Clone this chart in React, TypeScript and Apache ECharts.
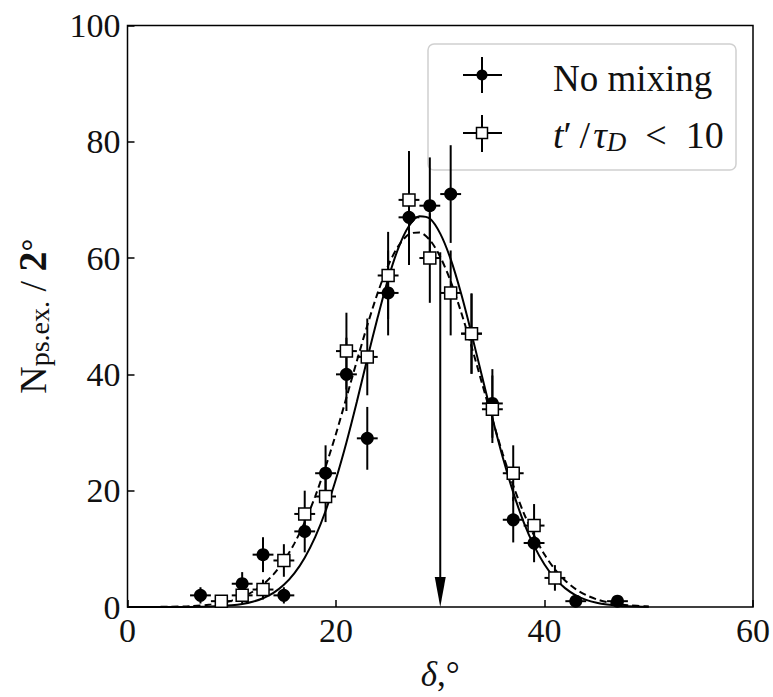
import { useEffect, useRef } from "react";
import * as echarts from "echarts";

// "No mixing" (filled circles)
const noMixX = [7, 11, 13, 15, 17, 19, 21, 23, 25, 27, 29, 31, 33, 35, 37, 39, 43, 47];
const noMixY = [2, 4, 9, 2, 13, 23, 40, 29, 54, 67, 69, 71, 47, 35, 15, 11, 1, 1];
const noMixErr = [1.4, 2, 3, 1.4, 3.6, 4.8, 6.3, 5.4, 7.3, 8.2, 8.3, 8.4, 6.9, 5.9, 3.9, 3.3, 1, 1];

// "t'/tau_D < 10" (open squares)
const tauX = [9, 11, 13, 15, 17, 19, 21, 23, 25, 27, 29, 31, 33, 35, 37, 39, 41];
const tauY = [1, 2, 3, 8, 16, 19, 44, 43, 57, 70, 60, 54, 47, 34, 23, 14, 5];
const tauErr = [1, 1.4, 1.7, 2.8, 4, 4.4, 6.6, 6.6, 7.5, 8.4, 7.7, 7.3, 6.9, 5.8, 4.8, 3.7, 2.2];

const binHalfWidth = 1;

// fitted curves
const curveX = [0, 2, 4, 6, 8, 9, 10, 11, 12, 13, 14, 15, 16, 17, 18, 19, 20, 21, 22, 23, 24, 25, 26, 27, 28, 29, 30, 31, 32, 33, 34, 35, 36, 37, 38, 39, 40, 41, 42, 43, 44, 45, 46, 47, 48, 50];
const fitSolid = [0, 0, 0.01, 0.02, 0.08, 0.16, 0.29, 0.52, 0.9, 1.51, 2.43, 3.81, 5.77, 8.47, 12.0, 16.5, 22.0, 28.3, 35.3, 42.7, 49.8, 56.4, 61.8, 65.5, 67.2, 66.8, 64.2, 59.8, 53.9, 47.0, 39.7, 32.5, 25.7, 19.7, 14.6, 10.5, 7.3, 4.91, 3.2, 2.02, 1.23, 0.73, 0.42, 0.23, 0.12, 0.03];
const fitDashed = [0, 0.01, 0.04, 0.14, 0.41, 0.68, 1.1, 1.72, 2.62, 3.88, 5.62, 7.92, 10.9, 14.6, 19.0, 24.1, 29.8, 36.0, 42.3, 48.4, 54.0, 58.7, 62.1, 64.1, 64.4, 63.1, 60.2, 56.0, 50.7, 44.8, 38.5, 32.3, 26.3, 20.9, 16.2, 12.3, 9.02, 6.47, 4.52, 3.07, 2.04, 1.32, 0.83, 0.51, 0.3, 0.1];

// arrow marker
const arrowX = [30];
const arrowTop = [61];
const arrowTip = [0];

const xTicks = [0, 20, 40, 60];
const yTicks = [0, 20, 40, 60, 80, 100];

const FONT = "Liberation Serif";

export default function App() {
  const ref = useRef<HTMLDivElement>(null);
  useEffect(() => {
    if (!ref.current) return;
    const chart = echarts.init(ref.current, null, { renderer: "svg" });

    const errRender = (_p: any, api: any) => {
      const x = api.value(0), y = api.value(1), e = api.value(2);
      const top = api.coord([x, y + e]);
      const bot = api.coord([x, y - e]);
      const l = api.coord([x - binHalfWidth, y]);
      const r = api.coord([x + binHalfWidth, y]);
      const style = { stroke: "#000", lineWidth: 2 };
      return {
        type: "group",
        children: [
          { type: "line", shape: { x1: top[0], y1: top[1], x2: bot[0], y2: bot[1] }, style },
          { type: "line", shape: { x1: l[0], y1: l[1], x2: r[0], y2: r[1] }, style },
        ],
      };
    };

    const arrowRender = (_p: any, api: any) => {
      const x = api.value(0), yTop = api.value(1), yTip = api.value(2);
      const p0 = api.coord([x, yTop]);
      const tip = api.coord([x, yTip]);
      const headLen = 30, headHalf = 5.5;
      return {
        type: "group",
        children: [
          { type: "line", shape: { x1: p0[0], y1: p0[1], x2: tip[0], y2: tip[1] - headLen + 2 }, style: { stroke: "#000", lineWidth: 2 } },
          {
            type: "polygon",
            shape: { points: [[tip[0], tip[1]], [tip[0] - headHalf, tip[1] - headLen], [tip[0] + headHalf, tip[1] - headLen]] },
            style: { fill: "#000" },
          },
        ],
      };
    };

    const option: any = {
      animation: false,
      backgroundColor: "#fff",
      textStyle: { fontFamily: FONT },
      grid: {
        left: 127.5, top: 25.4, width: 627.5, height: 585.3,
        show: true, borderColor: "#000", borderWidth: 1.5, backgroundColor: "transparent",
      },
      xAxis: {
        type: "value", min: xTicks[0], max: xTicks[xTicks.length - 1], interval: 20,
        axisLine: { show: false },
        axisTick: { show: true, inside: true, length: 7, lineStyle: { color: "#000", width: 1.5 } },
        axisLabel: { fontFamily: FONT, fontSize: 34, color: "#111", margin: 6 },
        splitLine: { show: false },
        name: "{i|δ}{n|,°}",
        nameLocation: "middle",
        nameGap: 50,
        nameTextStyle: {
          fontFamily: FONT,
          rich: {
            i: { fontFamily: FONT, fontSize: 35, fontStyle: "italic", color: "#111" },
            n: { fontFamily: FONT, fontSize: 35, color: "#111" },
          },
        },
      },
      yAxis: {
        type: "value", min: yTicks[0], max: yTicks[yTicks.length - 1], interval: 20,
        axisLine: { show: false },
        axisTick: { show: true, inside: true, length: 7, lineStyle: { color: "#000", width: 1.5 } },
        axisLabel: { fontFamily: FONT, fontSize: 34, color: "#111", margin: 7 },
        splitLine: { show: false },
        name: "{n|N}{s|ps.ex.}{n| / }{b|2}{d|°}",
        nameLocation: "middle",
        nameRotate: 90,
        nameGap: 74,
        nameTextStyle: {
          fontFamily: FONT,
          rich: {
            n: { fontFamily: FONT, fontSize: 38, lineHeight: 42, color: "#111" },
            s: { fontFamily: FONT, fontSize: 28, lineHeight: 26, verticalAlign: "bottom", color: "#111" },
            b: { fontFamily: FONT, fontSize: 40, lineHeight: 42, fontWeight: "bold", color: "#111" },
            d: { fontFamily: FONT, fontSize: 32, lineHeight: 42, fontWeight: "bold", color: "#111" },
          },
        },
      },
      series: [
        {
          type: "line", name: "fit no mixing", data: curveX.map((x, i) => [x, fitSolid[i]]),
          showSymbol: false, smooth: 0.3, lineStyle: { color: "#000", width: 2 }, z: 2, silent: true,
        },
        {
          type: "line", name: "fit t'/tau", data: curveX.map((x, i) => [x, fitDashed[i]]),
          showSymbol: false, smooth: 0.3, lineStyle: { color: "#000", width: 2, type: [7, 4] }, z: 2, silent: true,
        },
        {
          type: "custom", name: "No mixing err", renderItem: errRender,
          data: noMixX.map((x, i) => [x, noMixY[i], noMixErr[i]]), encode: { x: 0, y: 1 }, z: 3,
        },
        {
          type: "scatter", name: "No mixing", data: noMixX.map((x, i) => [x, noMixY[i]]),
          symbol: "circle", symbolSize: 13, itemStyle: { color: "#000", opacity: 1 }, z: 4,
        },
        {
          type: "custom", name: "tau err", renderItem: errRender,
          data: tauX.map((x, i) => [x, tauY[i], tauErr[i]]), encode: { x: 0, y: 1 }, z: 5,
        },
        {
          type: "scatter", name: "t'/tau_D < 10", data: tauX.map((x, i) => [x, tauY[i]]),
          symbol: "rect", symbolSize: 12, itemStyle: { color: "#fff", borderColor: "#000", borderWidth: 1.5, opacity: 1 }, z: 6,
        },
        {
          type: "custom", name: "arrow", renderItem: arrowRender,
          data: arrowX.map((x, i) => [x, arrowTop[i], arrowTip[i]]), encode: { x: 0, y: 1 }, z: 7,
        },
      ],
      graphic: [
        {
          type: "group", z: 100,
          children: [
            {
              type: "rect", shape: { x: 428, y: 44, width: 308, height: 126, r: 6 },
              style: { fill: "rgba(255,255,255,0.8)", stroke: "#d0d0d0", lineWidth: 1.5 },
            },
            { type: "line", shape: { x1: 463, y1: 75, x2: 502, y2: 75 }, style: { stroke: "#000", lineWidth: 2 } },
            { type: "line", shape: { x1: 482, y1: 57, x2: 482, y2: 93 }, style: { stroke: "#000", lineWidth: 2 } },
            { type: "circle", shape: { cx: 482, cy: 75, r: 5.5 }, style: { fill: "#000" } },
            { type: "line", shape: { x1: 463, y1: 133, x2: 502, y2: 133 }, style: { stroke: "#000", lineWidth: 2 } },
            { type: "line", shape: { x1: 482, y1: 115, x2: 482, y2: 152 }, style: { stroke: "#000", lineWidth: 2 } },
            { type: "rect", shape: { x: 476.5, y: 127.5, width: 11, height: 11 }, style: { fill: "#fff", stroke: "#000", lineWidth: 1.5 } },
            {
              type: "text", x: 553, y: 78,
              style: { text: "No mixing", fontFamily: FONT, fontSize: 37, fill: "#111", verticalAlign: "middle", align: "left" },
            },
            {
              type: "text", x: 553, y: 135,
              style: {
                text: "{i|t}{n|′\u2009/\u200a}{i|τ}{s|D}{n|\u2002<\u200210}",
                fontFamily: FONT,
                verticalAlign: "middle", align: "left",
                rich: {
                  i: { fontFamily: FONT, fontSize: 38, fontStyle: "italic", lineHeight: 40, fill: "#111" },
                  n: { fontFamily: FONT, fontSize: 38, lineHeight: 40, fill: "#111" },
                  s: { fontFamily: FONT, fontSize: 27, fontStyle: "italic", lineHeight: 24, verticalAlign: "bottom", fill: "#111" },
                },
              },
            },
          ],
        },
      ],
    };
    chart.setOption(option);
    return () => chart.dispose();
  }, []);
  return (
    <div
      ref={ref}
      style={{ position: "fixed", left: 0, top: 0, width: 773, height: 697, background: "#fff" }}
    />
  );
}
